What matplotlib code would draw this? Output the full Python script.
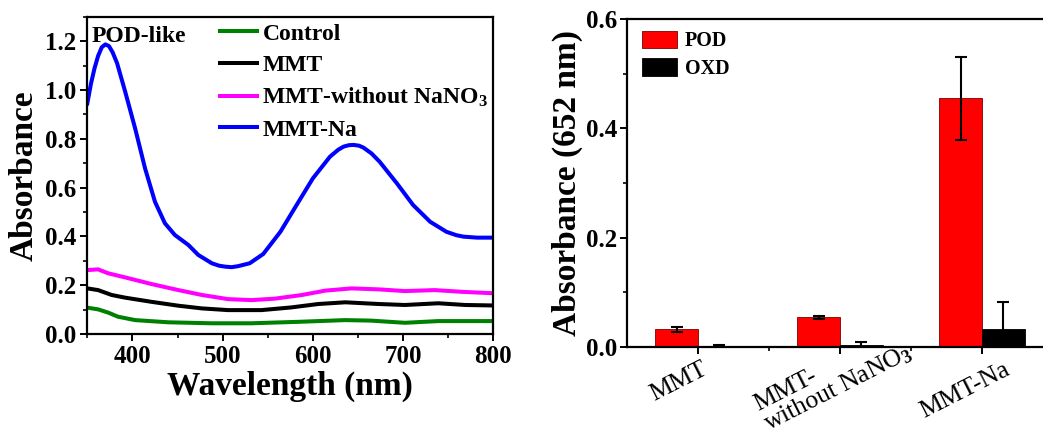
import matplotlib
matplotlib.use("Agg")
import matplotlib.pyplot as plt
import matplotlib.transforms as mtransforms
from matplotlib.ticker import MultipleLocator
import numpy as np

# --- left panel: UV-vis spectra ---
wl_control = [350, 362, 373, 384, 403, 440, 488, 532, 584, 636, 664, 702, 739, 800]
abs_control = [0.108, 0.101, 0.088, 0.071, 0.057, 0.048, 0.044, 0.044, 0.050, 0.057,
               0.055, 0.046, 0.053, 0.053]

wl_mmt = [350, 362, 377, 392, 421, 451, 477, 506, 543, 576, 606, 636, 673, 702, 739,
          769, 800]
abs_mmt = [0.187, 0.180, 0.160, 0.149, 0.132, 0.116, 0.105, 0.098, 0.098, 0.109, 0.123,
           0.130, 0.123, 0.119, 0.126, 0.119, 0.117]

wl_wo = [350, 362, 373, 392, 421, 451, 477, 506, 532, 558, 588, 614, 643, 673, 702,
         735, 765, 800]
abs_wo = [0.262, 0.265, 0.249, 0.232, 0.205, 0.180, 0.160, 0.143, 0.139, 0.145, 0.160,
          0.178, 0.187, 0.183, 0.176, 0.180, 0.173, 0.167]

wl_na = [350, 354, 358, 362, 366, 370, 374, 378, 383, 392, 403, 414, 425, 436, 447,
         462, 473, 488, 496, 503, 510, 517, 530, 545, 564, 582, 600, 619, 628, 634,
         640, 645, 651, 656, 665, 674, 693, 711, 730, 748, 759, 767, 782, 800]
abs_na = [0.945, 1.025, 1.089, 1.140, 1.175, 1.187, 1.180, 1.155, 1.110, 0.993, 0.843,
          0.679, 0.542, 0.454, 0.406, 0.365, 0.324, 0.290, 0.280, 0.276, 0.274, 0.278,
          0.290, 0.328, 0.419, 0.529, 0.638, 0.727, 0.755, 0.768, 0.774, 0.775, 0.772,
          0.764, 0.740, 0.706, 0.618, 0.529, 0.460, 0.419, 0.405, 0.399, 0.395, 0.395]

# --- right panel: absorbance at 652 nm ---
groups = ["MMT", "MMT-\nwithout NaNO$_3$", "MMT-Na"]
pod_vals = [0.032, 0.054, 0.455]
pod_err = [0.005, 0.003, 0.076]
oxd_vals = [0.002, 0.004, 0.032]
oxd_err = [0.001, 0.005, 0.050]

plt.rcParams.update({
    "font.family": "Liberation Serif",
    "font.weight": "bold",
    "mathtext.fontset": "custom",
    "mathtext.rm": "Liberation Serif:bold",
    "mathtext.it": "Liberation Serif:bold",
    "mathtext.bf": "Liberation Serif:bold",
    "mathtext.default": "rm",
    "axes.linewidth": 1.6,
    "xtick.direction": "out",
    "ytick.direction": "out",
    "xtick.major.size": 5,
    "ytick.major.size": 5,
    "xtick.minor.size": 3,
    "ytick.minor.size": 3,
    "xtick.major.width": 1.4,
    "ytick.major.width": 1.4,
    "xtick.minor.width": 1.2,
    "ytick.minor.width": 1.2,
})

fig = plt.figure(figsize=(10.43, 4.38), dpi=100)

# ---------------- left panel ----------------
ax1 = fig.add_axes([0.0837, 0.2374, 0.3893, 0.7242])
lw = 2.9
ax1.plot(wl_control, abs_control, color="#008000", lw=lw, label="Control")
ax1.plot(wl_mmt, abs_mmt, color="black", lw=lw, label="MMT")
ax1.plot(wl_wo, abs_wo, color="#FF00FF", lw=lw, label="MMT-without NaNO$_3$")
ax1.plot(wl_na, abs_na, color="#0000FF", lw=lw, label="MMT-Na")

ax1.set_xlim(350, 800)
ax1.set_ylim(0, 1.3)
ax1.xaxis.set_major_locator(MultipleLocator(100))
ax1.xaxis.set_minor_locator(MultipleLocator(50))
ax1.yaxis.set_major_locator(MultipleLocator(0.2))
ax1.yaxis.set_minor_locator(MultipleLocator(0.1))
ax1.yaxis.set_major_formatter(plt.FuncFormatter(lambda v, p: f"{v:.1f}"))
ax1.tick_params(labelsize=18, pad=3)
ax1.set_xlabel("Wavelength (nm)", fontsize=24, fontweight="bold", labelpad=2)
ax1.set_ylabel("Absorbance", fontsize=24, fontweight="bold", labelpad=4)

ax1.text(0.01, 0.97, "POD-like", transform=ax1.transAxes, fontsize=17,
         fontweight="bold", ha="left", va="top")
ax1.legend(loc="upper left", bbox_to_anchor=(0.315, 0.995), frameon=False,
           fontsize=17, handlelength=1.55, handletextpad=0.25,
           labelspacing=0.42, borderpad=0.2, borderaxespad=0)

# ---------------- right panel ----------------
ax2 = fig.add_axes([0.6012, 0.2078, 0.3989, 0.7489])
x = np.arange(1, len(groups) + 1)
w = 0.3
ax2.bar(x - w / 2, pod_vals, w, color="#FF0000", edgecolor="#7a0000", lw=0.6,
        label="POD", yerr=pod_err,
        error_kw=dict(ecolor="black", elinewidth=1.5, capsize=4, capthick=1.5))
ax2.bar(x + w / 2, oxd_vals, w, color="black", edgecolor="black", lw=0.6,
        label="OXD", yerr=oxd_err,
        error_kw=dict(ecolor="black", elinewidth=1.5, capsize=4, capthick=1.5))

ax2.set_xlim(0.5, 3.43)
ax2.set_ylim(0, 0.6)
ax2.spines["right"].set_visible(False)
ax2.set_xticks(x)
ax2.set_xticks([1.5, 2.5], minor=True)
ax2.set_xticklabels(groups, rotation=27, ha="center", va="top", fontsize=18.5,
                    fontweight="normal", multialignment="left", linespacing=0.92)
ax2.yaxis.set_major_locator(MultipleLocator(0.2))
ax2.yaxis.set_minor_locator(MultipleLocator(0.1))
ax2.yaxis.set_major_formatter(plt.FuncFormatter(lambda v, p: f"{v:.1f}"))
ax2.tick_params(axis="y", labelsize=18, pad=2)
ax2.tick_params(axis="x", pad=4)
ax2.set_ylabel("Absorbance (652 nm)", fontsize=24, fontweight="bold", labelpad=2)

# nudge the rotated category labels like in the original
shifts = [(-14, 1), (-5, 27), (-12, 1)]
for lab, (dx, dy) in zip(ax2.get_xticklabels(), shifts):
    off = mtransforms.ScaledTranslation(dx / 72, dy / 72, fig.dpi_scale_trans)
    lab.set_transform(lab.get_transform() + off)

ax2.legend(loc="upper left", bbox_to_anchor=(0.035, 0.964), frameon=False,
           fontsize=14.5, handlelength=1.75, handleheight=0.95,
           handletextpad=0.4, labelspacing=0.35, borderpad=0,
           borderaxespad=0)

fig.savefig("out.png", dpi=100, facecolor="white")
